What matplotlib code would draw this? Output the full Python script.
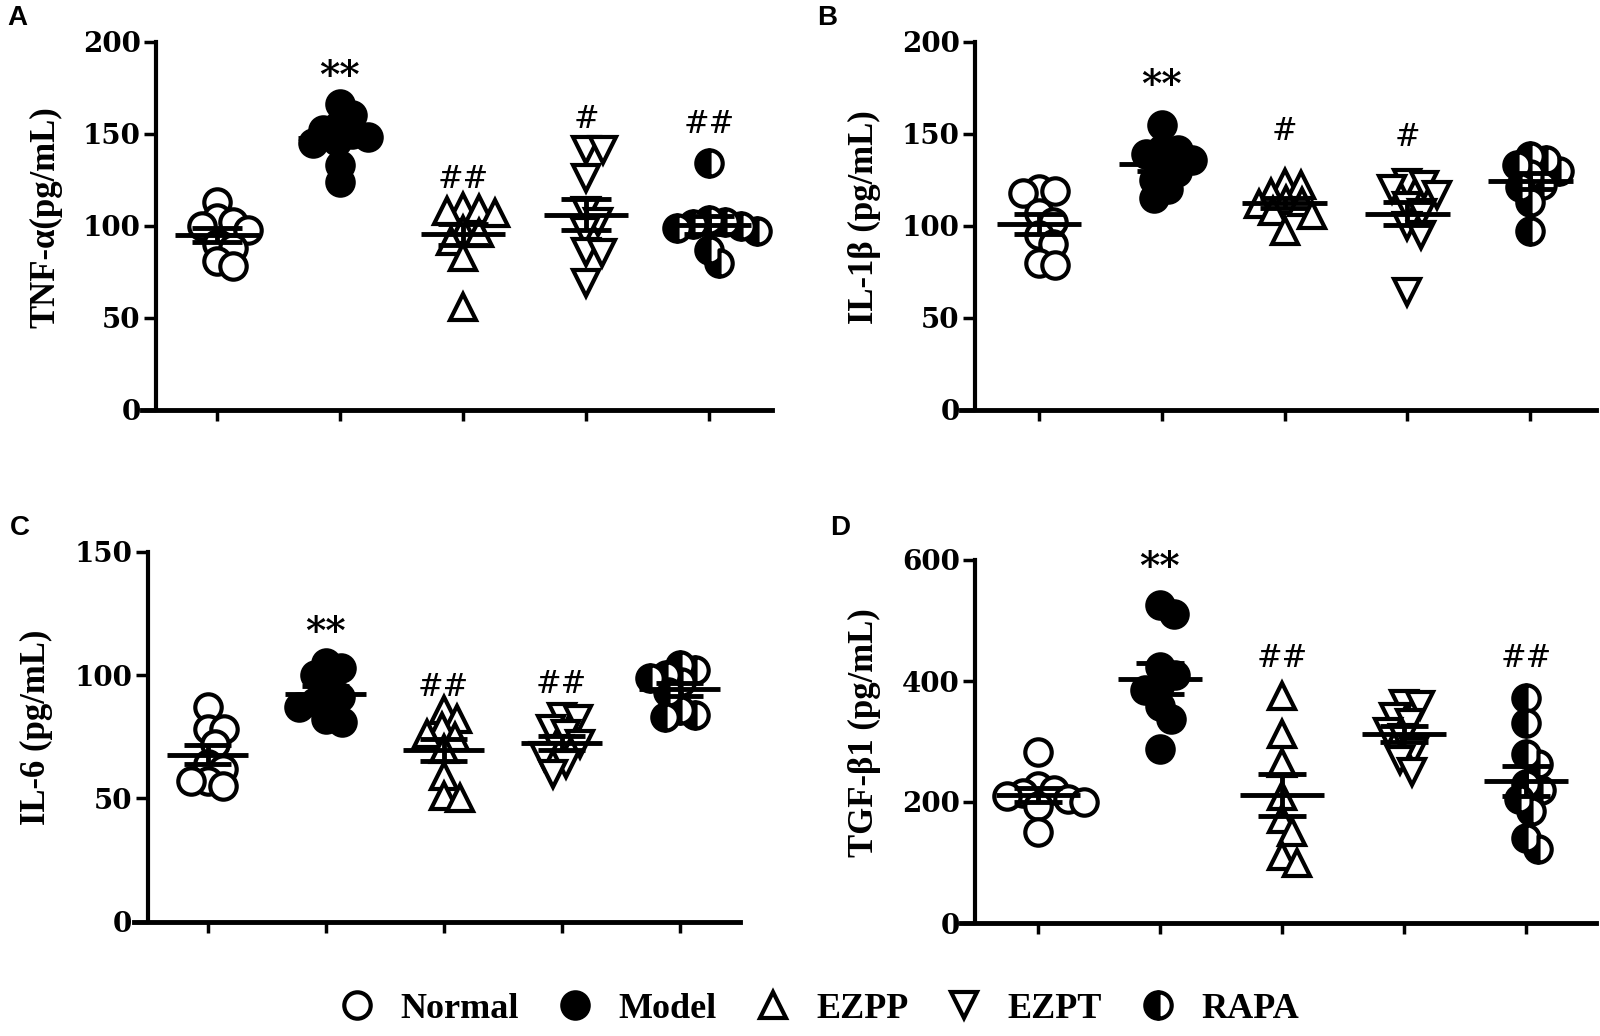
import numpy as np
import matplotlib
matplotlib.use('Agg')
import matplotlib.pyplot as plt
from matplotlib.lines import Line2D

groups = ['Normal', 'Model', 'EZPP', 'EZPT', 'RAPA']

# values, one list per group
tnf = [[113, 104, 102, 100, 98, 90, 88, 81, 78],
       [166, 160, 155, 152, 150, 148, 146, 145, 133, 124],
       [110, 109, 108, 107, 98, 96, 92, 83, 56],
       [141, 141, 126, 108, 102, 97, 86, 85, 69],
       [134, 103, 102, 101, 100, 99, 97, 87, 80]]
il1b = [[120, 119, 118, 107, 102, 95, 90, 80, 79],
        [155, 142, 141, 139, 136, 133, 129, 125, 120, 115],
        [123, 122, 118, 114, 113, 112, 108, 106, 97],
        [123, 122, 120, 117, 111, 107, 100, 95, 64],
        [138, 136, 133, 130, 128, 122, 121, 113, 97]]
il6 = [[87, 78, 78, 72, 64, 62, 57, 57, 55],
       [105, 103, 100, 94, 91, 89, 87, 82, 81],
       [86, 82, 79, 76, 75, 70, 59, 51, 50],
       [83, 82, 78, 76, 72, 70, 67, 64, 60],
       [104, 102, 100, 99, 97, 93, 86, 84, 83]]
tgf = [[283, 226, 220, 215, 210, 205, 200, 193, 150],
       [525, 510, 423, 410, 395, 385, 358, 337, 288],
       [375, 313, 265, 210, 172, 150, 110, 100],
       [362, 360, 340, 330, 315, 305, 285, 270, 250],
       [372, 330, 280, 262, 230, 220, 205, 185, 140, 122]]

# significance marks and their heights
tnf_marks = ['', '**', '##', '#', '##']
tnf_mark_y = [0, 181, 125, 158, 155]
il1b_marks = ['', '**', '#', '#', '']
il1b_mark_y = [0, 176, 151, 148, 0]
il6_marks = ['', '**', '##', '##', '']
il6_mark_y = [0, 117, 95, 96, 0]
tgf_marks = ['', '**', '##', '', '##']
tgf_mark_y = [0, 587, 438, 0, 438]

W, H = 1600, 1036
SERIF = 'Liberation Serif'

marker_styles = [
    dict(marker='o', mfc='white', mec='black'),
    dict(marker='o', mfc='black', mec='black'),
    dict(marker='^', mfc='white', mec='black'),
    dict(marker='v', mfc='white', mec='black'),
    dict(marker='o', mfc='black', mec='black', fillstyle='left',
         markerfacecoloralt='white'),
]
MS = 19
MEW = 3


def swarm_x(ax, center, values, min_dist=16.5):
    # simple beeswarm in pixel space
    to_px = ax.transData.transform
    px_per_unit = to_px((1, 0))[0] - to_px((0, 0))[0]
    placed = []
    xs = []
    for v in values:
        y = to_px((0, v))[1]
        cands = [0.0]
        for px, py in placed:
            dy = y - py
            if abs(dy) < min_dist:
                dx = np.sqrt(min_dist ** 2 - dy ** 2)
                cands += [px + dx, px - dx]
        cands.sort(key=abs)
        choice = cands[-1]
        for c in cands:
            if all((c - px) ** 2 + (y - py) ** 2 >= min_dist ** 2 - 1e-6
                   for px, py in placed):
                choice = c
                break
        placed.append((choice, y))
        xs.append(center + choice / px_per_unit)
    return xs


def make_panel(fig, box, data, ylim, yticks, ylabel, marks, mark_y, letter,
               letter_pos):
    left, right, top, bottom, c0, step, spine = box
    ax = fig.add_axes([left / W, 1 - bottom / H, (right - left) / W,
                       (bottom - top) / H])
    ax.set_xlim((left - c0) / step, (right - c0) / step)
    ax.set_ylim(*ylim)
    ax.patch.set_alpha(0)

    for s in ['top', 'right']:
        ax.spines[s].set_visible(False)
    ax.spines['left'].set_position(('data', (spine - c0) / step))
    ax.spines['left'].set_linewidth(3)
    ax.spines['bottom'].set_linewidth(3.5)

    ax.set_yticks(yticks)
    ax.set_xticks(range(len(groups)))
    ax.tick_params(axis='y', length=9, width=2.5, pad=2, labelsize=20)
    ax.tick_params(axis='x', length=8, width=2.5, labelbottom=False)
    for lab in ax.get_yticklabels():
        lab.set_fontfamily('DejaVu Serif')
        lab.set_fontweight('bold')

    for i, vals in enumerate(data):
        xs = swarm_x(ax, i, vals)
        ax.plot(xs, vals, linestyle='none', ms=MS, mew=MEW, zorder=3,
                clip_on=False, **marker_styles[i])
        m = np.mean(vals)
        se = np.std(vals, ddof=1) / np.sqrt(len(vals))
        ax.hlines(m, i - 0.345, i + 0.345, color='black', lw=3.5, zorder=5)
        ax.hlines([m - se, m + se], i - 0.2, i + 0.2, color='black', lw=3.5,
                  zorder=5)
        ax.vlines(i, m - se, m + se, color='black', lw=3.5, zorder=5)

    for i, (t, y) in enumerate(zip(marks, mark_y)):
        if not t:
            continue
        if t.startswith('*'):
            ax.text(i, y, t, ha='center', va='center', fontsize=28,
                    family='DejaVu Serif', fontweight='bold')
        else:
            ax.text(i, y, t, ha='center', va='center', fontsize=22,
                    family='DejaVu Serif')

    ax.set_ylabel(ylabel, fontsize=25, family=SERIF, fontweight='bold')
    ax.yaxis.set_label_coords((spine - 94 - left) / (right - left), 0.525)

    fig.text(letter_pos[0] / W, 1 - letter_pos[1] / H, letter,
             fontsize=20, family='Liberation Sans', fontweight='bold',
             ha='left', va='top')
    return ax


def main():
    fig = plt.figure(figsize=(W / 100, H / 100), dpi=100)

    make_panel(fig, (142, 772, 41.7, 410, 217, 123, 156), tnf, (0, 200),
               [0, 50, 100, 150, 200], 'TNF-α(pg/mL)', tnf_marks, tnf_mark_y,
               'A', (7, 5))
    make_panel(fig, (961, 1596, 41.7, 410, 1039, 122.8, 975), il1b, (0, 200),
               [0, 50, 100, 150, 200], 'IL-1β (pg/mL)', il1b_marks,
               il1b_mark_y, 'B', (817, 5))
    make_panel(fig, (134, 740, 551.7, 921.7, 207.5, 118, 147.5), il6,
               (0, 150), [0, 50, 100, 150], 'IL-6 (pg/mL)', il6_marks,
               il6_mark_y, 'C', (10, 515))
    make_panel(fig, (961, 1596, 560, 923, 1038, 122, 975), tgf, (0, 600),
               [0, 200, 400, 600], 'TGF-β1 (pg/mL)', tgf_marks, tgf_mark_y,
               'D', (830, 515))

    handles = [Line2D([], [], linestyle='none', ms=MS, mew=MEW, **st)
               for st in marker_styles]
    fig.legend(handles, groups, loc='center', bbox_to_anchor=(0.512, 0.026),
               ncol=5, frameon=False, handlelength=1.0, handletextpad=0.7,
               columnspacing=1.05,
               prop=dict(family=SERIF, weight='bold', size=26))

    fig.savefig('out.png', dpi=100)


if __name__ == '__main__':
    main()
